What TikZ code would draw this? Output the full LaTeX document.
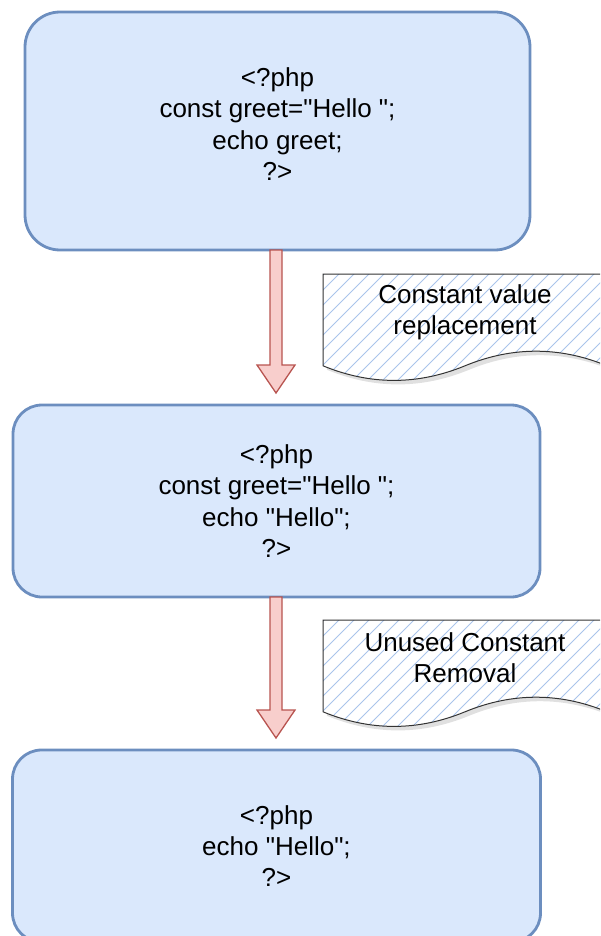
\documentclass[tikz,border=0pt]{standalone}
\usepackage{fontspec}
\setmainfont{Liberation Sans}
\usetikzlibrary{calc,shadows}
\definecolor{boxfill}{HTML}{DAE8FC}
\definecolor{boxline}{HTML}{6C8EBF}
\definecolor{arrfill}{HTML}{F8CECC}
\definecolor{arrline}{HTML}{B85450}
\definecolor{hatchcol}{HTML}{A9C4EB}
\newcommand{\dq}{\textquotedbl}
\tikzset{
  codebox/.style={draw=boxline, fill=boxfill, line width=2.8pt, rectangle, outer sep=0pt, inner sep=0pt},
  codetext/.style={align=center, text=black, font=\fontsize{26}{31.2}\selectfont, inner sep=0pt},
  bigarr/.style={draw=arrline, fill=arrfill, line width=1.3pt, line join=miter},
  docshape/.style={draw=black!80, line width=1pt, fill=white},
  hatchline/.style={draw=hatchcol, line width=1pt},
}
\begin{document}
\begin{tikzpicture}[x=1pt,y=1pt]
\useasboundingbox (0,0) rectangle (600,-936);
\clip (0,0) rectangle (600,-936);
% boxes
\node[codebox, minimum width=505pt, minimum height=238pt, rounded corners=35pt] (b1) at (277.5,-131) {};
\node[codebox, minimum width=527pt, minimum height=192pt, rounded corners=29pt] (b2) at (276.5,-501) {};
\node[codebox, minimum width=528pt, minimum height=192pt, rounded corners=29pt] (b3) at (276.5,-846) {};
\node[codetext] (t1) at ([yshift=7]b1.center) {<?php\\const greet=\dq Hello \dq;\\echo greet;\\?>};
\node[codetext] (t2) at (b2.center) {<?php\\const greet=\dq Hello \dq;\\echo \dq Hello\dq;\\?>};
\node[codetext] (t3) at (b3.center) {<?php\\echo \dq Hello\dq;\\?>};
% arrows
\coordinate (tip1) at ([xshift=-0.5pt,yshift=12]b2.north);
\coordinate (tip2) at ([yshift=12]b3.north);
\draw[bigarr] ([xshift=-1.5,yshift=0]b1.south) ++(-6,0) coordinate (a1s)
  -- ($(tip1)+(-6,28)$) -- ($(tip1)+(-19,28)$) -- (tip1) -- ($(tip1)+(19,28)$) -- ($(tip1)+(6,28)$)
  -- ($(a1s)+(12,0)$) -- cycle;
\draw[bigarr] ([xshift=-0.5]b2.south) ++(-6,0) coordinate (a2s)
  -- ($(tip2)+(-6.5,28)$) -- ($(tip2)+(-19.5,28)$) -- ([xshift=-0.5]tip2) -- ($(tip2)+(18.5,28)$) -- ($(tip2)+(5.5,28)$)
  -- ($(a2s)+(12,0)$) -- cycle;
% documents
\foreach \oy/\nm in {0/d1, 346/d2}{
  \begin{scope}[yshift=-\oy]
    \path[fill=black, opacity=0.12] (325,-278) -- (611,-278) -- (611,-369.8)
      .. controls (563.67,-350.33) and (516.33,-350.33) .. (469,-369.8)
      .. controls (421.67,-389.27) and (374.33,-389.27) .. (327,-369.8) -- cycle;
    \path[fill=white] (323,-274) -- (607,-274) -- (607,-365.8)
      .. controls (559.67,-346.33) and (512.33,-346.33) .. (465,-365.8)
      .. controls (417.67,-385.27) and (370.33,-385.27) .. (323,-365.8) -- cycle;
    \begin{scope}
      \clip (323,-274) -- (607,-274) -- (607,-365.8)
        .. controls (559.67,-346.33) and (512.33,-346.33) .. (465,-365.8)
        .. controls (417.67,-385.27) and (370.33,-385.27) .. (323,-365.8) -- cycle;
      \foreach \k in {0,...,28}{
        \draw[hatchline] (202+15*\k,-396) -- ++(123,123);
      }
    \end{scope}
    \draw[docshape, fill=none] (323,-274) -- (607,-274) -- (607,-365.8)
      .. controls (559.67,-346.33) and (512.33,-346.33) .. (465,-365.8)
      .. controls (417.67,-385.27) and (370.33,-385.27) .. (323,-365.8) -- cycle;
  \end{scope}
}
\node[codetext] (l1) at (465,-312) {Constant value\\replacement};
\node[codetext] (l2) at (465,-657.5) {Unused Constant\\Removal};
\end{tikzpicture}
\end{document}
